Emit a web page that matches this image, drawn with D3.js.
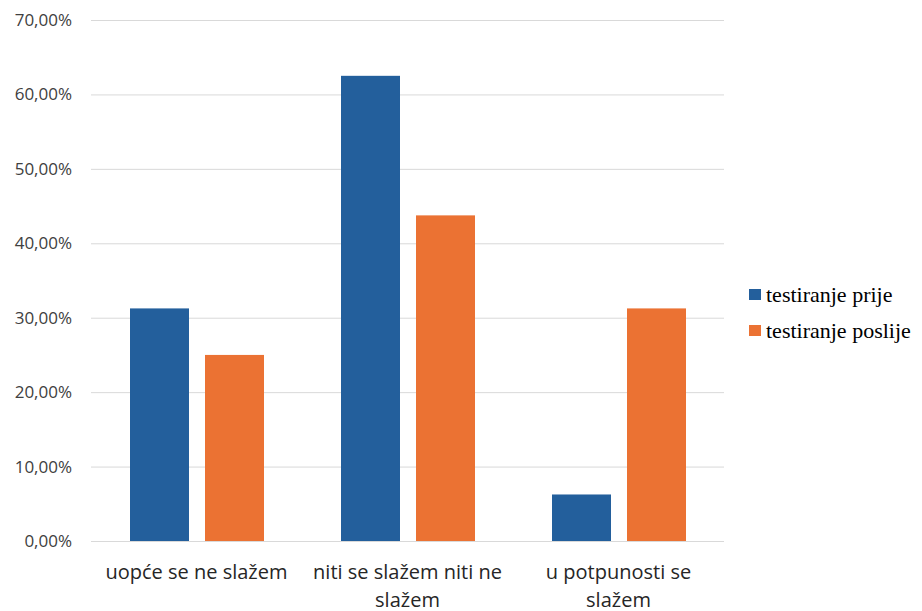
<!DOCTYPE html>
<html><head><meta charset="utf-8">
<script src="https://cdn.jsdelivr.net/npm/d3@7"></script>
<style>body{margin:0;background:#fff}</style>
</head><body>
<svg id="c" width="922" height="611"></svg>
<script>
const categories = [["uopće se ne slažem"], ["niti se slažem niti ne", "slažem"], ["u potpunosti se", "slažem"]];
const seriesNames = ["testiranje prije", "testiranje poslije"];
const prije = [31.25, 62.5, 6.25];
const poslije = [25, 43.75, 31.25];
const yTicks = [0, 10, 20, 30, 40, 50, 60, 70];
const colors = ["#235F9C", "#EB7233"];

const svg = d3.select("#c");
const pLeft = 91, pRight = 724, pTop = 20, pBottom = 541;
const catKeys = categories.map((c, i) => i);
const x0 = d3.scaleBand().domain(catKeys).range([pLeft, pRight]);
const x1 = d3.scaleBand().domain([0, 1]).range([39, 173]).paddingInner(16/75);
const y = d3.scaleLinear().domain([0, 70]).range([pBottom, pTop]);
const fmt = v => v.toFixed(2).replace(".", ",") + "%";

const yAxis = d3.axisLeft(y).tickValues(yTicks).tickSize(-(pRight - pLeft)).tickFormat(fmt);
const g = svg.append("g").attr("transform", `translate(${pLeft},0)`).call(yAxis);
g.select(".domain").remove();
g.selectAll(".tick line").attr("stroke", "#D9D9D9").attr("stroke-width", 1);
g.selectAll(".tick text").attr("x", -19).attr("font-family", "Open Sans, sans-serif").attr("font-size", 17).attr("fill", "#404040");

const series = [prije, poslije];
series.forEach((vals, s) => {
  svg.append("g").selectAll("rect").data(vals).join("rect")
    .attr("x", (d, i) => x0(i) + x1(s))
    .attr("width", x1.bandwidth())
    .attr("y", d => y(d))
    .attr("height", d => y(0) - y(d))
    .attr("fill", colors[s]);
});

const xl = svg.append("g");
categories.forEach((lines, i) => {
  const t = xl.append("text").attr("text-anchor", "middle")
    .attr("font-family", "Open Sans, sans-serif").attr("font-size", 20).attr("fill", "#262626");
  lines.forEach((ln, j) => {
    t.append("tspan").attr("x", x0(i) + x0.bandwidth() / 2).attr("y", 579 + j * 28).text(ln);
  });
});

const leg = svg.append("g");
seriesNames.forEach((n, s) => {
  leg.append("rect").attr("x", 749).attr("y", 289 + s * 36).attr("width", 12).attr("height", 11).attr("fill", colors[s]);
  leg.append("text").attr("x", 766).attr("y", 302 + s * 36).attr("font-family", "Liberation Serif, serif")
    .attr("font-size", 22).attr("fill", "#000").text(n);
});
</script>
</body></html>
